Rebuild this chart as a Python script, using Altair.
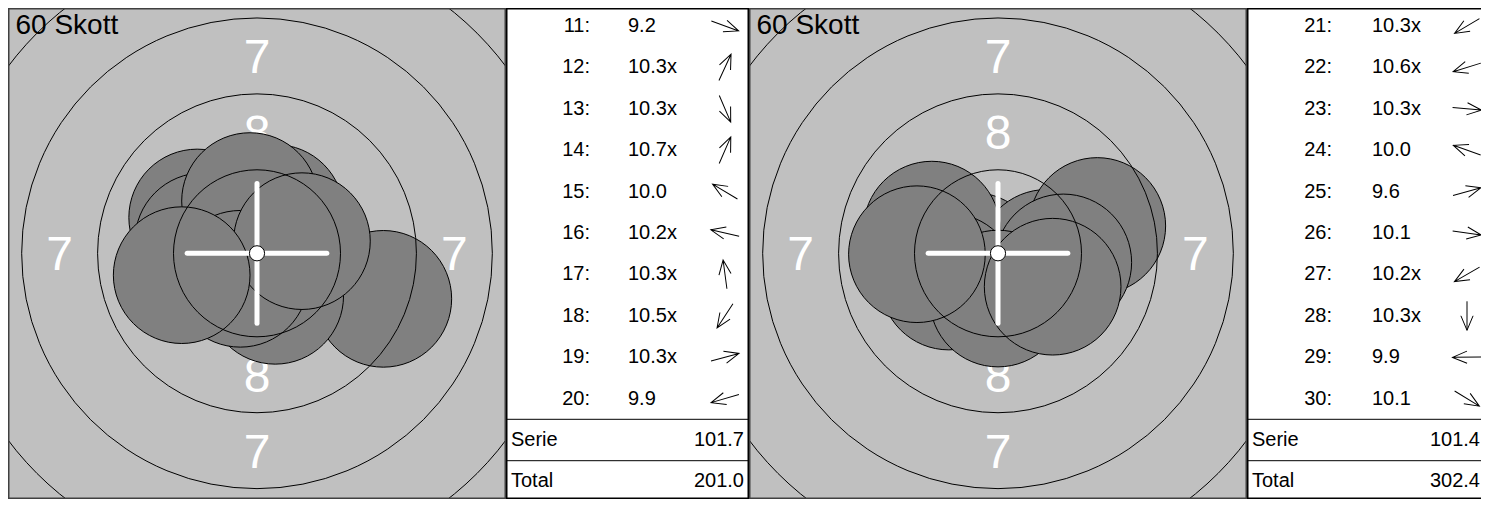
import altair as alt
import numpy as np
import pandas as pd

# ---------------- data ----------------
title_text = "60 Skott"

# series shown in first block (shots 11-20)
a_no = list(range(11, 21))
a_score = ["9.2", "10.3x", "10.3x", "10.7x", "10.0", "10.2x", "10.3x", "10.5x", "10.3x", "9.9"]
a_x = [4.16, 0.61, 0.60, 0.24, -1.97, -1.77, -0.23, -0.55, 1.48, -2.48]   # mm, right +
a_y = [-1.50, 1.33, -1.40, 0.55, 1.18, 0.40, 1.72, -0.84, 0.40, -0.72]    # mm, up +
a_serie = "101.7"
a_total = "201.0"

# series shown in second block (shots 21-30)
b_no = list(range(21, 31))
b_score = ["10.3x", "10.6x", "10.3x", "10.0", "9.6", "10.1", "10.2x", "10.3x", "9.9", "10.1"]
b_x = [-1.37, -0.81, 1.60, -2.18, 3.27, 2.15, -1.62, 0.00, -2.67, 1.80]
b_y = [-0.82, -0.25, -0.15, 0.78, 0.90, -0.30, -0.93, -1.49, -0.03, -1.10]
b_serie = "101.4"
b_total = "302.4"

summary_labels = ["Serie", "Total"]

# target geometry (10 m air rifle, mm)
ring_radius = [2.75, 5.25, 7.75, 10.25]   # rings 9, 8, 7, 6
ring_value = [9, 8, 7, 6]
ten_radius = 0.25
shot_radius = 2.25
cross_arm = 2.3

# ---------------- layout / style ----------------
FONT = "Liberation Sans"
W_T, W_TAB1, W_TAB2, H = 498, 243, 234, 491
PX_PER_MM = W_T / 16.4
XD = [-8.2, 8.2]
CY = 245.3                                  # target centre, px from top
YD = [-(H - CY) / PX_PER_MM, CY / PX_PER_MM]
ROW0, ROWSTEP = 18.0, 41.4                  # table row layout (px)
ARROW = "M -1 0 L 1 0 M 0 -0.42 L 1 0 L 0 0.42"

xs = alt.Scale(domain=XD, nice=False, zero=False)
ys = alt.Scale(domain=YD, nice=False, zero=False)
ss = alt.Scale(type="pow", exponent=2, domain=[0, 8.2],
               range=[0, (2 * 8.2 * PX_PER_MM) ** 2], nice=False, zero=True)

rings_df = pd.DataFrame({"r": ring_radius, "ring": ring_value})
rings_df["x"] = 0.0
rings_df["y"] = 0.0
ten_df = pd.DataFrame({"r": [ten_radius], "x": [0.0], "y": [0.0]})

# ring numbers in the middle of the 7 and 8 bands
r9, r8, r7, r6 = ring_radius
m7 = (r8 + r7) / 2
m8 = (r9 + r8) / 2
labels_df = pd.DataFrame({
    "t": ["7", "7", "7", "7", "8", "8"],
    "x": [0, 0, -m7, m7, 0, 0],
    "y": [m7, -m7, 0, 0, m8, -m8],
})
cross_df = pd.DataFrame({"x1": [-cross_arm, 0], "x2": [cross_arm, 0],
                         "y1": [0, -cross_arm], "y2": [0, cross_arm]})
title_df = pd.DataFrame({"t": [title_text]})
frame_df = pd.DataFrame({"k": [0]})


def frame(width, color, sw):
    return alt.Chart(frame_df).mark_rect(
        filled=False, stroke=color, strokeWidth=sw, clip=True
    ).encode(x=alt.value(0), x2=alt.value(width), y=alt.value(0), y2=alt.value(H))


def target(nos, xv, yv):
    shots = pd.DataFrame({"no": nos, "x": xv, "y": yv, "r": [shot_radius] * len(nos)})
    X = lambda f: alt.X(f, scale=xs, axis=None)
    Y = lambda f: alt.Y(f, scale=ys, axis=None)
    S = alt.Size("r:Q", scale=ss, legend=None)
    nums = alt.Chart(labels_df).mark_text(
        color="white", fontSize=48, font=FONT, align="center", baseline="middle", dy=3, clip=True
    ).encode(x=X("x:Q"), y=Y("y:Q"), text="t:N")
    shot_layer = alt.Chart(shots).mark_point(
        shape="circle", filled=True, fill="#808080", stroke="black", strokeWidth=1, opacity=1, clip=True
    ).encode(x=X("x:Q"), y=Y("y:Q"), size=S, order="no:Q")
    ring_layer = alt.Chart(rings_df).mark_point(
        shape="circle", filled=False, stroke="black", strokeWidth=1, opacity=1, clip=True
    ).encode(x=X("x:Q"), y=Y("y:Q"), size=S)
    cross = alt.Chart(cross_df).mark_rule(
        color="white", strokeWidth=5, strokeCap="round", clip=True
    ).encode(x=X("x1:Q"), x2="x2:Q", y=Y("y1:Q"), y2="y2:Q")
    ten = alt.Chart(ten_df).mark_point(
        shape="circle", filled=True, fill="white", stroke="black", strokeWidth=1, opacity=1, clip=True
    ).encode(x=X("x:Q"), y=Y("y:Q"), size=S)
    title = alt.Chart(title_df).mark_text(
        align="left", baseline="alphabetic", fontSize=28, font=FONT, color="black"
    ).encode(text="t:N", x=alt.value(7.5), y=alt.value(25.8))
    return alt.layer(nums, shot_layer, ring_layer, cross, ten, title,
                     frame(W_T, "#404040", 3)).properties(
        width=W_T, height=H,
        view=alt.ViewBackground(fill="#c0c0c0", strokeWidth=0),
    )


def table(nos, scores, xv, yv, serie, total, width, cols, frame_w):
    ang = np.degrees(np.arctan2(yv, xv))
    rot = (-ang) % 360
    rows = pd.DataFrame({
        "row": list(range(len(nos))),
        "num": [f"{n}:" for n in nos],
        "score": scores,
        "rot": rot,
    })
    summ = pd.DataFrame({"row": [len(nos), len(nos) + 1],
                         "label": summary_labels, "value": [serie, total]})
    lines = pd.DataFrame({"row": [len(nos) - 0.5, len(nos) + 0.5]})
    yt = alt.Scale(domain=[-ROW0 / ROWSTEP, (H - ROW0) / ROWSTEP],
                   reverse=True, nice=False, zero=False)
    Y = lambda f: alt.Y(f, scale=yt, axis=None)
    c_num, c_score, c_arrow, c_left, c_right = cols
    base = dict(fontSize=20, font=FONT, color="black", baseline="middle", clip=True)
    t_num = alt.Chart(rows).mark_text(align="right", **base).encode(
        x=alt.value(c_num), y=Y("row:Q"), text="num:N")
    t_score = alt.Chart(rows).mark_text(align="left", **base).encode(
        x=alt.value(c_score), y=Y("row:Q"), text="score:N")
    arrows = alt.Chart(rows).mark_point(
        shape=ARROW, filled=False, stroke="black", strokeWidth=1, opacity=1, size=840, clip=True
    ).encode(x=alt.value(c_arrow), y=Y("row:Q"), angle=alt.Angle("rot:Q", scale=None))
    t_lab = alt.Chart(summ).mark_text(align="left", **base).encode(
        x=alt.value(c_left), y=Y("row:Q"), text="label:N")
    t_val = alt.Chart(summ).mark_text(align="right", **base).encode(
        x=alt.value(c_right), y=Y("row:Q"), text="value:N")
    rules = alt.Chart(lines).mark_rule(color="black", strokeWidth=1, clip=True).encode(y=Y("row:Q"))
    return alt.layer(rules, t_num, t_score, arrows, t_lab, t_val,
                     frame(frame_w, "black", 3)).properties(
        width=width, height=H,
        view=alt.ViewBackground(fill="white", strokeWidth=0),
    )


t1 = target(a_no, a_x, a_y)
tab1 = table(a_no, a_score, a_x, a_y, a_serie, a_total, W_TAB1,
             (84, 122, 219, 5, 238), W_TAB1)
t2 = target(b_no, b_x, b_y)
tab2 = table(b_no, b_score, b_x, b_y, b_serie, b_total, W_TAB2,
             (85, 125, 220, 5, 233), W_TAB2 + 10)

chart = alt.hconcat(t1, tab1, t2, tab2, spacing=0, padding=0, bounds="flush").resolve_scale(
    x="independent", y="independent", size="independent"
).configure_view(strokeWidth=0)

chart.save("out.html", embed_options={"renderer": "svg", "actions": False})
